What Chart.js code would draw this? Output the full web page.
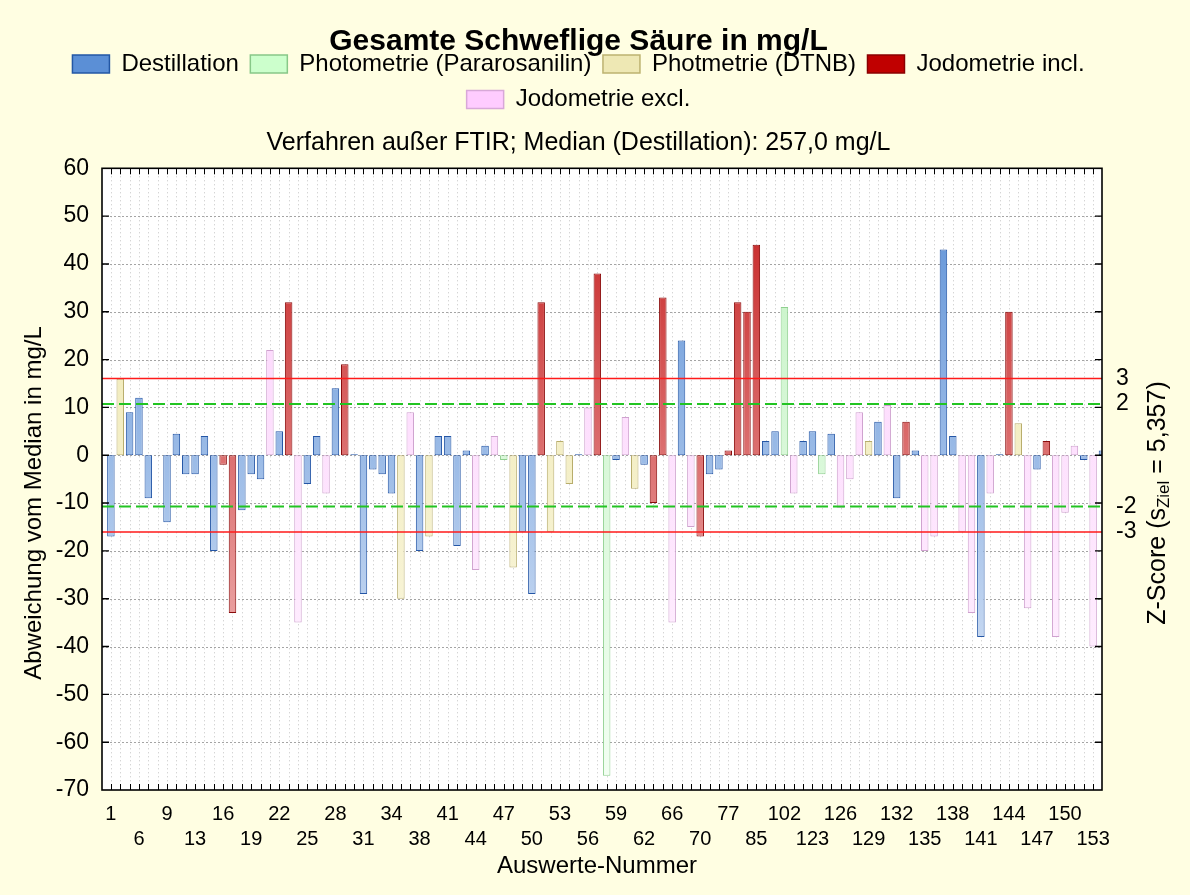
<!DOCTYPE html>
<html>
<head>
<meta charset="utf-8">
<script src="https://cdn.jsdelivr.net/npm/chart.js@4/dist/chart.umd.min.js"></script>
<style>
  html, body { margin: 0; padding: 0; background: #fffee2; }
</style>
</head>
<body>
<canvas id="myChart" width="1190" height="895"></canvas>
<script>
// Auswerte-Nummern (x axis), one per bar
const auswerteNr = [1,2,4,6,7,8,9,11,12,13,14,15,16,17,18,19,20,21,22,23,24,25,26,27,28,29,30,31,32,33,
    34,35,37,38,39,40,41,42,43,44,45,46,47,48,49,50,51,52,53,54,55,56,57,58,59,60,61,62,63,65,
    66,67,69,70,72,74,77,80,83,85,90,98,102,110,120,123,124,125,126,127,128,129,130,131,132,133,134,135,136,137,
    138,139,140,141,142,143,144,145,146,147,148,149,150,151,152,153,154];

// Abweichung vom Median in mg/L
const abweichung = [-17,16,9,12,-9,null,-14,4.5,-4,-4,
    4,-20,-2,-33,-11.5,-4,-5,22,5,32,
    -35,-6,4,-8,14,19,0.2,-29,-3,-4,
    -8,-30,9,-20,-17,4,4,-19,1,-24,
    2,4,-1,-23.5,-16,-29,32,-16,3,-6,
    0.2,10,38,-67,-1,8,-7,-2,-10,33,
    -35,24,-15,-17,-4,-3,1,32,30,44,
    3,5,31,-8,3,5,-4,4.5,-11,-5,
    9,3,7,10.5,-9,7,1,-20,-17,43,
    4,-16,-33,-38,-8,0.2,30,6.7,-32,-3,
    3,-38,-12,2,-1,-40,1];

// Verfahren per bar, index into verfahren[]
const verfahrenNr = [0,2,0,0,0,null,0,0,0,0,
    0,0,3,3,0,0,0,4,0,3,
    4,0,0,4,0,3,0,0,0,0,
    0,2,4,0,2,0,0,0,0,4,
    0,4,1,2,0,0,3,2,2,2,
    0,4,3,1,0,4,2,0,3,3,
    4,0,4,3,0,0,3,3,3,3,
    0,0,1,4,0,0,1,0,4,4,
    4,2,0,4,0,3,0,4,4,0,
    0,4,4,0,4,0,3,2,4,0,
    3,4,4,4,0,4,0];

const verfahren = ['Destillation', 'Photometrie (Pararosanilin)', 'Photmetrie (DTNB)', 'Jodometrie incl.', 'Jodometrie excl.'];

const sZiel = 5.357;
const zLabels = [3, 2, -2, -3];

// colours
const legendFill = ['#5b8fd6', '#ccffcc', '#eee8b4', '#c00000', '#ffccff'];
const legendEdge = ['#2357a5', '#88c888', '#bdb270', '#8a0000', '#d8a8d8'];
const barTop     = ['#5a8fd6', '#c2f2c2', '#ede5aa', '#c41c1c', '#fcd0fc'];
const barBottom  = ['#e6eefa', '#f3fff3', '#fcfae8', '#f8d2d2', '#fff5ff'];
const barEdge    = ['#2456a6', '#8fcf8f', '#b8ad6c', '#8a0b0b', '#cfa2cf'];

Chart.defaults.font.family = '"Liberation Sans", Arial, sans-serif';
Chart.defaults.color = '#000';

function gradientFill(m) {
    return (ctx) => {
        const area = ctx.chart.chartArea;
        if (!area) return barTop[m];
        const g = ctx.chart.ctx.createLinearGradient(0, area.top, 0, area.bottom);
        g.addColorStop(0, barTop[m]);
        g.addColorStop(1, barBottom[m]);
        return g;
    };
}

const datasets = verfahren.map((name, m) => ({
    label: name,
    data: abweichung.map((v, i) => ({ x: i, y: v })).filter((p, i) => verfahrenNr[i] === m),
    backgroundColor: gradientFill(m),
    borderColor: barEdge[m],
    borderWidth: 1,
    borderSkipped: false,
    grouped: false,
    barPercentage: 0.8,
    categoryPercentage: 1
}));

// frame, dotted grid, z-score lines and axis titles
const rahmen = {
    id: 'rahmen',
    beforeDraw(chart) {
        const { ctx, chartArea: a } = chart;
        ctx.save();
        ctx.fillStyle = '#fffee2';
        ctx.fillRect(0, 0, chart.width, chart.height);
        ctx.fillStyle = '#ffffff';
        ctx.fillRect(a.left, a.top, a.right - a.left, a.bottom - a.top);
        ctx.restore();
    },
    beforeDatasetsDraw(chart) {
        const { ctx, chartArea: a, scales: { x, y } } = chart;
        ctx.save();
        ctx.lineWidth = 1;
        ctx.strokeStyle = '#c4c4c4';
        ctx.setLineDash([1, 3]);
        auswerteNr.forEach((_, i) => {
            const px = Math.round(x.getPixelForValue(i)) + 0.5;
            if (px < a.left || px > a.right) return;
            ctx.beginPath();
            ctx.moveTo(px, a.top);
            ctx.lineTo(px, a.bottom);
            ctx.stroke();
        });
        ctx.strokeStyle = '#a4a4a4';
        ctx.setLineDash([2, 2]);
        for (let v = -60; v < 60; v += 10) {
            const py = Math.round(y.getPixelForValue(v)) + 0.5;
            ctx.beginPath();
            ctx.moveTo(a.left, py);
            ctx.lineTo(a.right, py);
            ctx.stroke();
        }
        ctx.restore();
    },
    afterDatasetsDraw(chart) {
        const { ctx, chartArea: a, scales: { x, y } } = chart;
        ctx.save();
        // z = +-3 and +-2
        ctx.lineWidth = 1.5;
        ctx.strokeStyle = '#ff1a1a';
        [3, -3].forEach(z => {
            const py = y.getPixelForValue(z * sZiel);
            ctx.beginPath(); ctx.moveTo(a.left, py); ctx.lineTo(a.right, py); ctx.stroke();
        });
        ctx.lineWidth = 2;
        ctx.strokeStyle = '#22c422';
        ctx.setLineDash([12, 5]);
        [2, -2].forEach(z => {
            const py = y.getPixelForValue(z * sZiel);
            ctx.beginPath(); ctx.moveTo(a.left, py); ctx.lineTo(a.right, py); ctx.stroke();
        });
        ctx.setLineDash([]);

        // frame
        ctx.strokeStyle = '#000';
        ctx.lineWidth = 1.6;
        ctx.strokeRect(a.left, a.top, a.right - a.left, a.bottom - a.top);

        // inner tick marks
        ctx.lineWidth = 1.4;
        for (let v = -60; v < 60; v += 10) {
            const py = y.getPixelForValue(v);
            ctx.beginPath();
            ctx.moveTo(a.left, py); ctx.lineTo(a.left + 7, py);
            ctx.moveTo(a.right, py); ctx.lineTo(a.right - 7, py);
            ctx.stroke();
        }
        ctx.lineWidth = 1;
        auswerteNr.forEach((_, i) => {
            const px = Math.round(x.getPixelForValue(i)) + 0.5;
            if (px < a.left || px > a.right) return;
            ctx.beginPath();
            ctx.moveTo(px, a.top); ctx.lineTo(px, a.top + 6);
            ctx.moveTo(px, a.bottom); ctx.lineTo(px, a.bottom - 6);
            ctx.stroke();
        });
        ctx.restore();
    },
    afterDraw(chart) {
        const { ctx } = chart;
        const fam = Chart.defaults.font.family;
        ctx.save();
        ctx.fillStyle = '#000';
        ctx.textBaseline = 'middle';
        ctx.textAlign = 'center';
        ctx.font = '24px ' + fam;
        ctx.fillText('Auswerte-Nummer', 597, 866);

        ctx.save();
        ctx.translate(34, 503);
        ctx.rotate(-Math.PI / 2);
        ctx.fillText('Abweichung vom Median in mg/L', 0, 0);
        ctx.restore();

        // Z-Score (s_Ziel = 5,357) with subscript
        const parts = [
            { t: 'Z-Score (s', f: '25px ' + fam, dy: 0 },
            { t: 'Ziel', f: '17px ' + fam, dy: 6 },
            { t: ' = 5,357)', f: '25px ' + fam, dy: 0 }
        ];
        let total = 0;
        parts.forEach(p => { ctx.font = p.f; p.w = ctx.measureText(p.t).width; total += p.w; });
        ctx.translate(1158, 503);
        ctx.rotate(-Math.PI / 2);
        ctx.textAlign = 'left';
        let cx = -total / 2;
        parts.forEach(p => {
            ctx.font = p.f;
            ctx.fillText(p.t, cx, p.dy);
            cx += p.w;
        });
        ctx.restore();
    }
};

const config = {
    type: 'bar',
    data: { datasets: datasets },
    options: {
        responsive: false,
        animation: false,
        layout: { padding: { left: 0, right: 33, top: 0, bottom: 0 } },
        plugins: {
            title: {
                display: true,
                text: 'Gesamte Schweflige Säure in mg/L',
                font: { size: 30, weight: 'bold', lineHeight: 1.2 },
                color: '#000',
                padding: { top: 24, bottom: -19.5 }
            },
            legend: {
                display: true,
                position: 'top',
                weight: 1700,
                labels: {
                    font: { size: 24 },
                    color: '#000',
                    boxWidth: 37,
                    boxHeight: 18,
                    padding: 11.5,
                    generateLabels: () => verfahren.map((name, m) => ({
                        text: name,
                        fillStyle: legendFill[m],
                        strokeStyle: legendEdge[m],
                        lineWidth: 1.5,
                        hidden: false,
                        datasetIndex: m
                    }))
                }
            },
            subtitle: {
                display: true,
                text: 'Verfahren außer FTIR; Median (Destillation): 257,0 mg/L',
                font: { size: 25, lineHeight: 1.2 },
                color: '#000',
                padding: { top: 7, bottom: 9.8 }
            },
            tooltip: { enabled: false }
        },
        scales: {
            x: {
                type: 'linear',
                position: 'bottom',
                min: -0.95,
                max: 105.95,
                offset: false,
                grid: { display: false, drawTicks: false, offset: false },
                border: { display: false },
                afterBuildTicks: (scale) => {
                    scale.ticks = auswerteNr.map((_, i) => i)
                        .filter(i => i % 3 === 0 && i <= scale.max)
                        .map(i => ({ value: i }));
                },
                ticks: {
                    autoSkip: false,
                    maxRotation: 0,
                    minRotation: 0,
                    padding: 12,
                    font: { size: 20, lineHeight: 1.25 },
                    callback: (value) => {
                        const i = Math.round(value);
                        const lbl = String(auswerteNr[i]);
                        return (i / 3) % 2 === 0 ? lbl : ['', lbl];
                    }
                },
                afterFit: (scale) => { scale.height = 105; }
            },
            y: {
                position: 'left',
                min: -70,
                max: 60,
                grid: { display: false, drawTicks: false },
                border: { display: false },
                ticks: { stepSize: 10, padding: 13, font: { size: 23 } },
                afterFit: (scale) => { scale.width = 102; }
            },
            z: {
                type: 'linear',
                position: 'right',
                min: -70 / sZiel,
                max: 60 / sZiel,
                grid: { display: false, drawTicks: false },
                border: { display: false },
                afterBuildTicks: (scale) => {
                    scale.ticks = zLabels.map(v => ({ value: v }));
                },
                ticks: { padding: 14, font: { size: 23 }, callback: (v) => String(v) },
                afterFit: (scale) => { scale.width = 55; }
            }
        }
    },
    plugins: [rahmen]
};

let myChart = new Chart(document.getElementById('myChart'), config);
</script>
</body>
</html>
